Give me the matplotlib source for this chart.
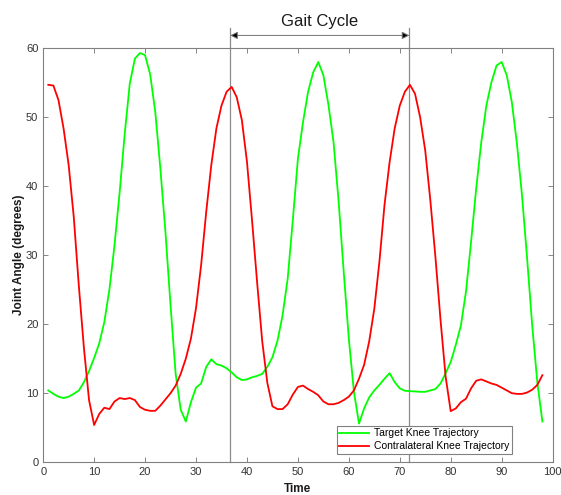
import matplotlib
matplotlib.use('Agg')
import matplotlib.pyplot as plt

plt.rcParams['font.family'] = ['Liberation Sans', 'DejaVu Sans']

time = list(range(1, 99))

target_knee = [10.4, 9.9, 9.5, 9.3, 9.5, 9.9, 10.4, 11.6, 13.2, 15.1,
               17.2, 20.3, 25.0, 31.4, 39.0, 47.5, 54.8, 58.4, 59.2, 58.9,
               56.1, 50.7, 42.5, 33.3, 22.7, 12.8, 7.6, 5.9, 8.7, 10.8,
               11.4, 13.8, 14.9, 14.2, 14.0, 13.6, 13.0, 12.3, 11.9, 12.0,
               12.3, 12.5, 12.8, 13.8, 15.2, 17.6, 21.3, 26.6, 35.0, 43.9,
               49.2, 53.6, 56.4, 57.9, 56.0, 51.7, 46.3, 37.7, 27.5, 17.9,
               10.2, 5.6, 7.8, 9.4, 10.4, 11.2, 12.1, 12.9, 11.6, 10.7,
               10.35, 10.3, 10.25, 10.2, 10.2, 10.4, 10.6, 11.4, 12.9, 14.5,
               17.0, 19.8, 24.7, 31.9, 39.6, 46.3, 51.6, 55.0, 57.4, 57.9,
               56.0, 52.1, 46.1, 38.6, 29.5, 19.8, 11.6, 5.9]

contra_knee = [54.6, 54.5, 52.4, 48.3, 43.0, 35.5, 25.5, 16.5, 9.0, 5.4,
               7.0, 7.9, 7.7, 8.8, 9.3, 9.15, 9.3, 9.0, 8.0, 7.6,
               7.45, 7.45, 8.2, 9.1, 10.0, 11.1, 12.8, 15.0, 17.9, 22.3,
               28.5, 36.2, 43.0, 48.3, 51.6, 53.6, 54.3, 52.8, 49.5, 43.5,
               35.0, 26.0, 17.5, 11.5, 8.1, 7.7, 7.7, 8.4, 9.8, 10.9,
               11.1, 10.6, 10.2, 9.7, 8.8, 8.4, 8.4, 8.6, 9.0, 9.5,
               10.4, 12.1, 14.1, 17.5, 22.2, 29.0, 37.2, 43.4, 48.3, 51.6,
               53.6, 54.6, 53.3, 49.9, 45.1, 37.9, 29.7, 20.6, 12.4, 7.4,
               7.8, 8.7, 9.2, 10.7, 11.8, 12.0, 11.7, 11.4, 11.2, 10.8,
               10.4, 10.0, 9.9, 9.9, 10.1, 10.5, 11.2, 12.6]

gait_start = 36.7
gait_end = 71.9

fig = plt.figure(figsize=(5.61, 4.95), dpi=100)
ax = fig.add_axes([0.077, 0.066, 0.908, 0.838])

ax.plot(time, target_knee, color=(0, 1, 0), lw=1.3, label='Target Knee Trajectory')
ax.plot(time, contra_knee, color=(1, 0, 0), lw=1.3, label='Contralateral Knee Trajectory')

# gait cycle markers
for gx in (gait_start, gait_end):
    ax.plot([gx, gx], [0, 62.8], color='0.55', lw=0.9, clip_on=False, zorder=1)
ax.annotate('', xy=(gait_start, 61.75), xytext=(gait_end, 61.75),
            arrowprops=dict(arrowstyle='<|-|>', facecolor='black', edgecolor='0.45',
                            lw=0.7, mutation_scale=11, shrinkA=0, shrinkB=0),
            annotation_clip=False)
ax.text((gait_start + gait_end) / 2, 63.8, 'Gait Cycle', ha='center', va='center',
        fontsize=12, color='0.1')

ax.set_xlim(0, 100)
ax.set_ylim(0, 60)
ax.set_xticks(range(0, 101, 10))
ax.set_yticks(range(0, 61, 10))
ax.tick_params(direction='in', top=True, right=True, length=3.5, width=0.6,
               labelsize=8, colors='0.45', labelcolor='0.2')
for s in ax.spines.values():
    s.set_color('0.5')
    s.set_linewidth(0.8)

ax.set_xlabel('Time', fontsize=8.5, fontweight='bold', color='0.1', labelpad=4)
ax.set_ylabel('Joint Angle (degrees)', fontsize=8.5, fontweight='bold', color='0.1', labelpad=1)

leg = ax.legend(loc='lower left', bbox_to_anchor=(0.576, 0.02), fontsize=7.5,
                frameon=True, fancybox=False, framealpha=1, edgecolor='0.5',
                handlelength=2.9, handletextpad=0.4, labelspacing=0.3,
                borderpad=0.25, borderaxespad=0)
leg.get_frame().set_linewidth(0.8)

fig.savefig('out.png', dpi=100)
